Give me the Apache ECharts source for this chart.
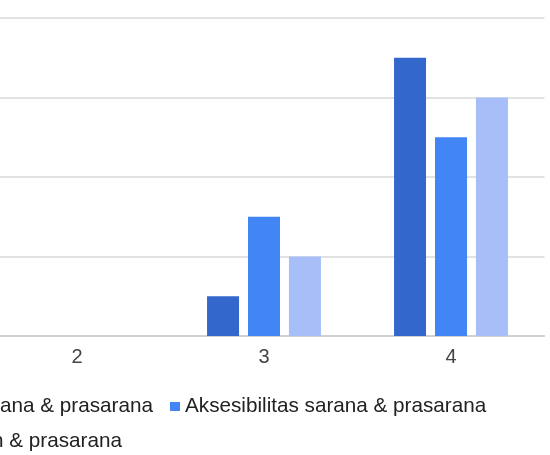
<!DOCTYPE html>
<html>
<head>
<meta charset="utf-8">
<script src="https://cdn.jsdelivr.net/npm/echarts@6/dist/echarts.min.js"></script>
<style>
html,body{margin:0;padding:0;background:#fff;overflow:hidden;width:550px;height:455px;position:relative;}
#chart{position:absolute;left:-40px;top:0;width:590px;height:455px;}
</style>
</head>
<body>
<div id="chart"></div>
<script>
const categories = ["2", "3", "4"];
const seriesNames = [
  "Ketersediaan sarana & prasarana",
  "Aksesibilitas sarana & prasarana",
  "Kualitas pelayanan & prasarana"
];
const ketersediaan = [0, 1, 7];
const aksesibilitas = [0, 3, 5];
const kualitas = [0, 2, 6];
const yTicks = [0, 2, 4, 6, 8];

const colors = ["#3367cc", "#4285f4", "#a7bef8"];
const font = "'Liberation Sans', Arial, sans-serif";

const chart = echarts.init(document.getElementById('chart'), null, {renderer: 'canvas'});
const legendBase = {
  icon: 'rect', itemWidth: 10, itemHeight: 9,
  textStyle: {fontFamily: font, fontSize: 20.7, color: '#222'},
  selectedMode: false, padding: 0
};
chart.setOption({
  animation: false,
  color: colors,
  grid: {left: 23.5, right: 5.5, top: 18, bottom: 119, containLabel: false},
  xAxis: {
    type: 'category', data: categories,
    axisTick: {show: false},
    axisLine: {lineStyle: {color: '#cccccc', width: 1.5}},
    axisLabel: {fontFamily: font, fontSize: 20, color: '#444', margin: 11}
  },
  yAxis: {
    type: 'value', min: yTicks[0], max: yTicks[yTicks.length - 1], interval: 2,
    axisLabel: {show: false},
    axisLine: {show: false}, axisTick: {show: false},
    splitLine: {lineStyle: {color: '#d9d9d9', width: 1.5}}
  },
  legend: [
    Object.assign({}, legendBase, {data: [seriesNames[0]], right: 397, top: 396}),
    Object.assign({}, legendBase, {data: [seriesNames[1]], left: 210, top: 396}),
    Object.assign({}, legendBase, {data: [seriesNames[2]], right: 428, top: 431})
  ],
  series: [
    {name: seriesNames[0], type: 'bar', data: ketersediaan, barWidth: 32, barGap: '28%'},
    {name: seriesNames[1], type: 'bar', data: aksesibilitas, barWidth: 32, barGap: '28%'},
    {name: seriesNames[2], type: 'bar', data: kualitas, barWidth: 32, barGap: '28%'}
  ]
});
</script>
</body>
</html>
